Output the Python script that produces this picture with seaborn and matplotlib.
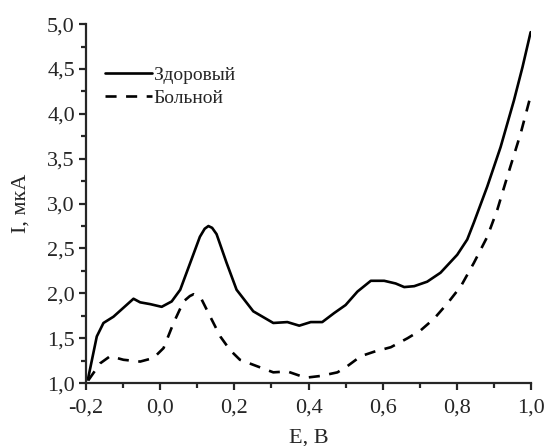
import numpy as np
import pandas as pd
import matplotlib
matplotlib.use("Agg")
import matplotlib.pyplot as plt
import seaborn as sns
from matplotlib.ticker import MultipleLocator, FuncFormatter

# кривые (E, В ; I, мкА)
e_healthy = [-0.195, -0.171, -0.153, -0.126, -0.099, -0.072, -0.054, -0.027, 0.004,
             0.031, 0.054, 0.081, 0.107, 0.120, 0.130, 0.140, 0.152, 0.179, 0.206,
             0.251, 0.305, 0.343, 0.375, 0.406, 0.437, 0.469, 0.500, 0.532, 0.568,
             0.604, 0.635, 0.658, 0.685, 0.720, 0.756, 0.801, 0.828, 0.846, 0.882,
             0.918, 0.954, 0.977, 0.999]
i_healthy = [1.04, 1.52, 1.67, 1.74, 1.84, 1.94, 1.90, 1.88, 1.85,
             1.91, 2.04, 2.34, 2.63, 2.72, 2.75, 2.73, 2.66, 2.34, 2.04,
             1.80, 1.67, 1.68, 1.64, 1.68, 1.68, 1.78, 1.87, 2.02, 2.14,
             2.14, 2.11, 2.07, 2.08, 2.13, 2.23, 2.43, 2.60, 2.79, 3.19,
             3.63, 4.15, 4.52, 4.91]

e_sick = [-0.194, -0.162, -0.135, -0.099, -0.054, -0.018, 0.009, 0.036, 0.063,
          0.080, 0.090, 0.100, 0.112, 0.135, 0.162, 0.188, 0.215, 0.260, 0.305,
          0.343, 0.392, 0.433, 0.478, 0.505, 0.541, 0.577, 0.622, 0.667, 0.703,
          0.739, 0.775, 0.811, 0.846, 0.882, 0.909, 0.936, 0.972, 0.997]
i_sick = [1.03, 1.22, 1.30, 1.26, 1.24, 1.28, 1.39, 1.67, 1.91,
          1.97, 1.99, 1.97, 1.93, 1.74, 1.52, 1.37, 1.26, 1.19, 1.12,
          1.13, 1.06, 1.08, 1.12, 1.19, 1.30, 1.35, 1.40, 1.50, 1.59,
          1.72, 1.89, 2.08, 2.34, 2.63, 2.93, 3.30, 3.78, 4.17]

sns.set_style("ticks")
plt.rcParams["font.family"] = ["Liberation Serif", "DejaVu Serif"]
plt.rcParams["axes.linewidth"] = 1.6

fig = plt.figure(figsize=(5.48, 4.46), dpi=100)
ax = fig.add_axes([0.157, 0.141, 0.812, 0.805])

sns.lineplot(x=e_healthy, y=i_healthy, ax=ax, color="black", lw=1.9,
             label="Здоровый", sort=False)
sns.lineplot(x=e_sick, y=i_sick, ax=ax, color="black", lw=1.9,
             label="Больной", sort=False)
ax.lines[1].set_dashes((4.2, 3.6))

ax.set_xlim(-0.2, 1.0)
ax.set_ylim(1.0, 5.0)
ax.xaxis.set_major_locator(MultipleLocator(0.2))
ax.xaxis.set_minor_locator(MultipleLocator(0.1))
ax.yaxis.set_major_locator(MultipleLocator(0.5))
ax.yaxis.set_minor_locator(MultipleLocator(0.25))
fmt = FuncFormatter(lambda v, p: f"{v:.1f}".replace(".", ","))
ax.xaxis.set_major_formatter(fmt)
ax.yaxis.set_major_formatter(fmt)
ax.tick_params(which="major", length=5, width=1.6, labelsize=16, direction="out", pad=3)
ax.tick_params(axis="x", which="major", pad=6)
ax.tick_params(which="minor", length=3.5, width=1.6, direction="out")

ax.set_xlabel("E, B", fontsize=16, labelpad=8)
ax.set_ylabel("I, мкА", fontsize=16, labelpad=12)
sns.despine(ax=ax)
for s in ("left", "bottom"):
    ax.spines[s].set_clip_on(False)

leg = ax.legend(loc="upper left", bbox_to_anchor=(0.025, 0.905), frameon=False,
                fontsize=14, handlelength=2.4, handletextpad=0.1, labelspacing=0.3,
                borderaxespad=0)
for h in leg.get_lines():
    h.set_linewidth(1.9)

fig.savefig("out.png", dpi=100)
